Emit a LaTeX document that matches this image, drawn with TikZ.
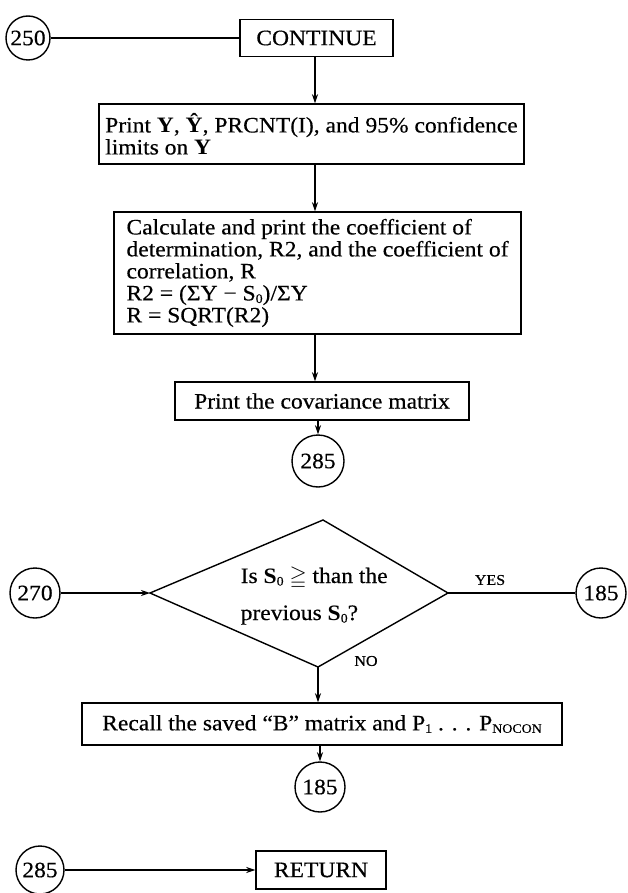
\documentclass[tikz,border=0pt]{standalone}
\usepackage{amssymb}
\usepackage{fontspec}
\setmainfont{Liberation Serif}[FakeStretch=1.07,UprightFeatures={FakeBold=0.4}]
\usetikzlibrary{arrows.meta}
\newcommand{\lowidx}[1]{\raisebox{-.25ex}{\fontsize{13}{13}\selectfont #1}}

\begin{document}
\begin{tikzpicture}[x=1pt,y=-1pt,line width=1.4pt,
 font=\fontsize{22}{22}\selectfont,
 blk/.style={draw,rectangle,inner sep=0pt,align=left},
 conn/.style={draw,circle,inner sep=0pt},
 lbl/.style={font=\fontsize{15}{17}\selectfont},
 >={Stealth[length=9pt,width=6pt]}]
\useasboundingbox (0,0) rectangle (628,893);
\coordinate (ax) at (315,0);
\node[conn,minimum size=44pt] (c250) at (28,38) {250};
\node[blk,minimum width=153pt,minimum height=37pt] (cont) at (316.5,38) {CONTINUE};
\node[blk,minimum width=425pt,minimum height=60pt] (prnt) at (311.5,134)
 {Print \textbf{Y}, \textbf{Ŷ}, PRCNT(I), and 95\% confidence\\limits on \textbf{Y}};
\node[blk,minimum width=407pt,minimum height=122pt] (calc) at (317.5,273)
 {Calculate and print the coefficient of\\
  determination, R2, and the coefficient of\\
  correlation, R\\
  R2 = (ΣY − S\lowidx{0})/ΣY\\
  R~=~SQRT(R2)};
\node[blk,minimum width=294pt,minimum height=38pt] (cov) at (322,401) {Print the covariance matrix};
\node[conn,minimum size=52pt] (c285) at (318,461) {285};
\draw (c250) -- (cont);
\draw[->] (ax |- cont.south) -- (ax |- prnt.north);
\draw[->] (ax |- prnt.south) -- (ax |- calc.north);
\draw[->] (ax |- calc.south) -- (ax |- cov.north);
\draw[->] (cov.south -| c285) -- (c285.north);

\coordinate (dl) at (150,593);
\coordinate (dt) at (323,520);
\coordinate (dr) at (448,593);
\coordinate (db) at (318,667);
\draw (dl) -- (dt) -- (dr) -- (db) -- cycle;
\node[anchor=base west,inner sep=0pt] (q1) at (240,583) {Is \textbf{S}\lowidx{0} $\geqq$ than the};
\node[anchor=base west,inner sep=0pt] (q2) at (240,620) {previous \textbf{S}\lowidx{0}?};
\node[conn,minimum size=50pt] (c270) at (35,593) {270};
\node[conn,minimum size=50pt] (c185a) at (601,593) {185};
\node[lbl] (yes) at (490,580) {YES};
\node[lbl] (no) at (366,661) {NO};
\draw[->] (c270) -- (dl);
\draw (dr) -- (c185a);

\node[blk,minimum width=480pt,minimum height=42pt] (rec) at (322,724)
 {Recall the saved “B” matrix and P\lowidx{1} . . . P\lowidx{NOCON}};
\node[conn,minimum size=50pt] (c185b) at (320,787) {185};
\draw[->] (db) -- (db |- rec.north);
\draw[->] (rec.south -| c185b) -- (c185b.north);

\node[conn,minimum size=48pt] (c285b) at (40,870) {285};
\node[blk,minimum width=130pt,minimum height=38pt] (ret) at (321,870) {RETURN};
\draw[->] (c285b) -- (ret);
\end{tikzpicture}
\end{document}
